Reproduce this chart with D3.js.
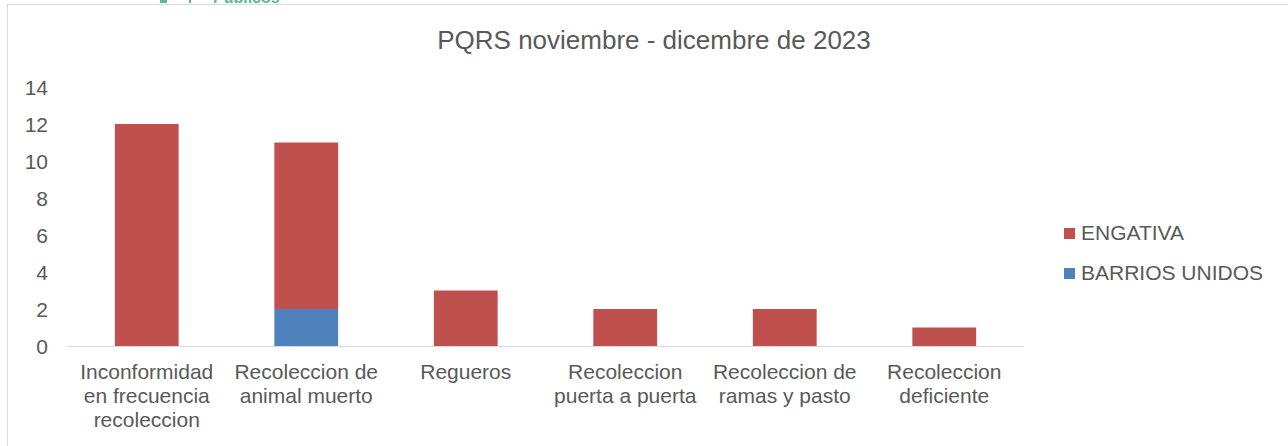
<!DOCTYPE html>
<html>
<head>
<meta charset="utf-8">
<script src="https://cdn.jsdelivr.net/npm/d3@7"></script>
<style>
  body { margin: 0; background: #fff; }
  text { font-family: Arial, "Liberation Sans", sans-serif; fill: #595959; }
</style>
</head>
<body>
<div class="chart"></div>
<script>
// data
var categories = ["Inconformidad en frecuencia recoleccion", "Recoleccion de animal muerto", "Regueros",
  "Recoleccion puerta a puerta", "Recoleccion de ramas y pasto", "Recoleccion deficiente"];
var barriosUnidos = [0, 2, 0, 0, 0, 0];
var engativa = [12, 9, 3, 2, 2, 1];
var seriesNames = ["ENGATIVA", "BARRIOS UNIDOS"];
var yTicks = [0, 2, 4, 6, 8, 10, 12, 14];
var chartTitle = "PQRS noviembre - dicembre de 2023";

var svgWidth = 1288, svgHeight = 446;
var colors = { "ENGATIVA": "#C0504D", "BARRIOS UNIDOS": "#4F81BD" };

var svg = d3.select(".chart").append("svg")
  .attr("width", svgWidth)
  .attr("height", svgHeight);

// cut-off logo at the very top (only its lower edge shows)
svg.append("rect")
  .attr("x", 160).attr("y", 0).attr("width", 7).attr("height", 3)
  .attr("fill", "#5cb898");
svg.append("rect")
  .attr("x", 189).attr("y", 0).attr("width", 2).attr("height", 3)
  .attr("fill", "#5cb898");
svg.append("text")
  .attr("x", 213).attr("y", 3)
  .attr("font-size", 16).attr("font-weight", "bold")
  .style("fill", "#5cb898")
  .text("Públicos");

// chart frame
svg.append("rect")
  .attr("x", 7.5).attr("y", 4.5)
  .attr("width", 1300).attr("height", 460)
  .attr("fill", "none").attr("stroke", "#d9d9d9");

var table = categories.map(function(c, i) {
  return { cat: c, "BARRIOS UNIDOS": barriosUnidos[i], "ENGATIVA": engativa[i] };
});
var stack = d3.stack().keys(["BARRIOS UNIDOS", "ENGATIVA"])(table);

var x = d3.scaleBand().domain(categories).range([67, 1024]).padding(0);
var y = d3.scaleLinear().domain([0, 14]).range([346, 87]);
var barW = x.bandwidth() * 0.4;

var chart = svg.append("g");

chart.selectAll("g.layer")
  .data(stack)
  .enter().append("g")
  .attr("class", "layer")
  .attr("fill", function(d) { return colors[d.key]; })
  .selectAll("rect")
  .data(function(d) { return d; })
  .enter().append("rect")
  .attr("x", function(d) { return x(d.data.cat) + (x.bandwidth() - barW) / 2; })
  .attr("y", function(d) { return y(d[1]); })
  .attr("width", barW)
  .attr("height", function(d) { return y(d[0]) - y(d[1]); });

// x axis line
chart.append("line")
  .attr("x1", 67).attr("x2", 1024)
  .attr("y1", y(0) + 0.5).attr("y2", y(0) + 0.5)
  .attr("stroke", "#d9d9d9");

// y tick labels
var leftAxis = d3.axisLeft(y).tickValues(yTicks).tickSize(0).tickPadding(0);
var yg = chart.append("g")
  .attr("transform", "translate(48,0)")
  .call(leftAxis);
yg.select(".domain").remove();
yg.selectAll("text")
  .attr("font-size", 21)
  .attr("dy", "0.35em")
  .style("fill", "#595959")
  .style("font-family", "Arial, 'Liberation Sans', sans-serif");

// category labels, wrapped to band width
function wrap(text, width) {
  text.each(function() {
    var t = d3.select(this), words = t.text().split(/\s+/), line = [];
    var xPos = t.attr("x");
    var tspan = t.text(null).append("tspan").attr("x", xPos).attr("dy", 0);
    words.forEach(function(w) {
      line.push(w);
      tspan.text(line.join(" "));
      if (tspan.node().getComputedTextLength() > width && line.length > 1) {
        line.pop();
        tspan.text(line.join(" "));
        line = [w];
        tspan = t.append("tspan").attr("x", xPos).attr("dy", 24).text(w);
      }
    });
  });
}

chart.selectAll("text.cat")
  .data(categories)
  .enter().append("text")
  .attr("class", "cat")
  .attr("x", function(d) { return x(d) + x.bandwidth() / 2; })
  .attr("y", 379)
  .attr("text-anchor", "middle")
  .attr("font-size", 21)
  .text(function(d) { return d; })
  .call(wrap, 156);

// title
svg.append("text")
  .attr("x", 654).attr("y", 49)
  .attr("text-anchor", "middle")
  .attr("font-size", 26)
  .text(chartTitle);

// legend
var legend = svg.selectAll("g.legend")
  .data(seriesNames)
  .enter().append("g")
  .attr("class", "legend")
  .attr("transform", function(d, i) { return "translate(1064," + (228 + i * 40) + ")"; });
legend.append("rect")
  .attr("width", 11).attr("height", 11)
  .attr("fill", function(d) { return colors[d]; });
legend.append("text")
  .attr("x", 17).attr("y", 12)
  .attr("font-size", 21)
  .text(function(d) { return d; });
</script>
</body>
</html>
